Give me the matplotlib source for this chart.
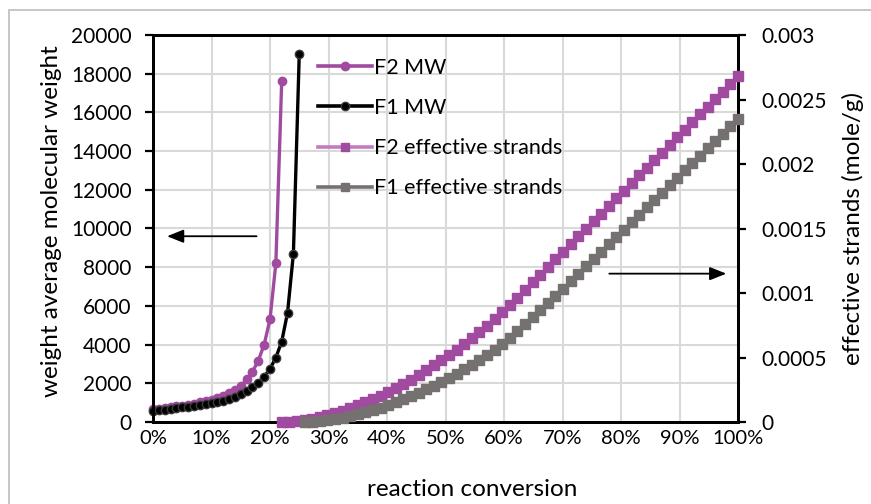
import matplotlib
matplotlib.use("Agg")
import matplotlib.pyplot as plt
from matplotlib.lines import Line2D
from matplotlib.patches import Rectangle
from matplotlib.ticker import FuncFormatter, MultipleLocator

plt.rcParams['font.family'] = ['Lato', 'DejaVu Sans']

# Weight average molecular weight vs. reaction conversion (%)
f2_mw_conv = [0, 1, 2, 3, 4, 5, 6, 7, 8, 9, 10, 11, 12, 13, 14, 15, 16, 17, 18, 19, 20, 21, 22]
f2_mw = [650, 690, 730, 770, 810, 850, 900, 950, 1010, 1080, 1160, 1250, 1350, 1480,
         1640, 1850, 2200, 2600, 3170, 4000, 5300, 8200, 17600]

f1_mw_conv = [0, 1, 2, 3, 4, 5, 6, 7, 8, 9, 10, 11, 12, 13, 14, 15, 16, 17, 18, 19, 20,
              21, 22, 23, 24, 25]
f1_mw = [580, 610, 640, 680, 710, 750, 790, 830, 870, 920, 970, 1030, 1100, 1180, 1290,
         1430, 1600, 1800, 2030, 2340, 2740, 3330, 4150, 5650, 8700, 19000]

# Effective strands (mole/g) vs. reaction conversion (%)
f2_es_conv = [22.0, 23.3, 24.6, 25.9, 27.2, 28.5, 29.8, 31.1, 32.4, 33.7, 35.0, 36.3, 37.6,
              38.9, 40.2, 41.5, 42.8, 44.1, 45.4, 46.7, 48.0, 49.3, 50.6, 51.9, 53.2, 54.5,
              55.8, 57.1, 58.4, 59.7, 61.0, 62.3, 63.6, 64.9, 66.2, 67.5, 68.8, 70.1, 71.4,
              72.7, 74.0, 75.3, 76.6, 77.9, 79.2, 80.5, 81.8, 83.1, 84.4, 85.7, 87.0, 88.3,
              89.6, 90.9, 92.2, 93.5, 94.8, 96.1, 97.4, 98.7, 100.0]
f2_es = [0.0, 0.000003, 0.000008, 0.000017, 0.000027, 0.000040, 0.000054, 0.000070,
         0.000088, 0.000107, 0.000129, 0.000153, 0.000178, 0.000205, 0.000233, 0.000263,
         0.000295, 0.000328, 0.000363, 0.000400, 0.000438, 0.000478, 0.000519, 0.000561,
         0.000605, 0.000650, 0.000697, 0.000746, 0.000797, 0.000851, 0.000905, 0.000965,
         0.001024, 0.001083, 0.001142, 0.001201, 0.001260, 0.001320, 0.001379, 0.001438,
         0.001497, 0.001556, 0.001615, 0.001674, 0.001734, 0.001793, 0.001852, 0.001911,
         0.001970, 0.002029, 0.002089, 0.002148, 0.002207, 0.002266, 0.002325, 0.002384,
         0.002443, 0.002503, 0.002562, 0.002621, 0.002680]

f1_es_conv = [25.9, 27.2, 28.5, 29.8, 31.1, 32.4, 33.7, 35.0, 36.3, 37.6, 38.9, 40.2, 41.5,
              42.8, 44.1, 45.4, 46.7, 48.0, 49.3, 50.6, 51.9, 53.2, 54.5, 55.8, 57.1, 58.4,
              59.7, 61.0, 62.3, 63.6, 64.9, 66.2, 67.5, 68.8, 70.1, 71.4, 72.7, 74.0, 75.3,
              76.6, 77.9, 79.2, 80.5, 81.8, 83.1, 84.4, 85.7, 87.0, 88.3, 89.6, 90.9, 92.2,
              93.5, 94.8, 96.1, 97.4, 98.7, 100.0]
f1_es = [0.0, 0.000002, 0.000006, 0.000013, 0.000022, 0.000032, 0.000045, 0.000059,
         0.000075, 0.000092, 0.000111, 0.000131, 0.000152, 0.000175, 0.000200, 0.000226,
         0.000253, 0.000281, 0.000311, 0.000342, 0.000374, 0.000408, 0.000442, 0.000480,
         0.000520, 0.000562, 0.000607, 0.000655, 0.000705, 0.000757, 0.000811, 0.000866,
         0.000920, 0.000977, 0.001034, 0.001092, 0.001149, 0.001206, 0.001263, 0.001320,
         0.001378, 0.001435, 0.001492, 0.001549, 0.001606, 0.001664, 0.001721, 0.001778,
         0.001835, 0.001892, 0.001950, 0.002007, 0.002064, 0.002121, 0.002178, 0.002236,
         0.002293, 0.002350]

series_labels = ["F2 MW", "F1 MW", "F2 effective strands", "F1 effective strands"]
x_tick_values = [0, 10, 20, 30, 40, 50, 60, 70, 80, 90, 100]

PURPLE = "#A04BA0"
PURPLE_LIGHT = "#C27DC0"
GREY = "#767171"
GRID = "#D9D9D9"

W, H = 871, 504
fig = plt.figure(figsize=(W / 100, H / 100), dpi=100)
ax = fig.add_axes([153 / W, 1 - 422 / H, (738 - 153) / W, (422 - 35) / H])
ax2 = ax.twinx()

# outer chart frame
fig.patches.append(Rectangle((9 / W, -0.2), 1.5, 1.2 - 10 / H, transform=fig.transFigure,
                             fill=False, edgecolor="#C6C6C6", linewidth=1.4))

MW_MS = 6.0
ES_MS = 6.8

# molecular weight curves (left axis)
ax.plot(f2_mw_conv, f2_mw, color=PURPLE, lw=2.4, marker="o", ms=MW_MS,
        mfc=PURPLE, mec=PURPLE, clip_on=False, zorder=3)
ax.plot(f1_mw_conv, f1_mw, color="black", lw=2.4, marker="o", ms=MW_MS,
        mfc="black", mec="#3A3A3A", clip_on=False, zorder=4)

# effective strands (right axis)
ax2.plot(f2_es_conv, f2_es, color=PURPLE_LIGHT, lw=2.0, marker="s", ms=ES_MS,
         mfc=PURPLE, mec=PURPLE, clip_on=False, zorder=3)
ax2.plot(f1_es_conv, f1_es, color=GREY, lw=2.0, marker="s", ms=ES_MS,
         mfc=GREY, mec=GREY, clip_on=False, zorder=4)

ax.set_xlim(0, 100)
ax.set_ylim(0, 20000)
ax2.set_ylim(0, 0.003)

ax.set_xticks(x_tick_values)
ax.xaxis.set_major_formatter(FuncFormatter(lambda v, p: f"{v:.0f}%"))
ax.yaxis.set_major_locator(MultipleLocator(2000))
ax.yaxis.set_major_formatter(FuncFormatter(lambda v, p: f"{v:.0f}"))
ax2.yaxis.set_major_locator(MultipleLocator(0.0005))
ax2.yaxis.set_major_formatter(FuncFormatter(lambda v, p: f"{v:g}"))

ax.grid(True, color=GRID, lw=1.5)
ax.set_axisbelow(True)

for a in (ax, ax2):
    for s in a.spines.values():
        s.set_color("black")
        s.set_linewidth(2.0)

ax.tick_params(axis="x", length=0, pad=6, labelsize=14.5, colors="black")
ax.tick_params(axis="y", length=5.5, width=1.6, pad=10, labelsize=15, direction="out")
ax2.tick_params(axis="y", length=6, width=1.6, pad=11, labelsize=15, direction="out")

ax.set_xlabel("reaction conversion", fontsize=17.5, va="center")
ax.xaxis.set_label_coords((472 - 153) / 585, (422 - 489) / 387)
ax.set_ylabel("weight average molecular weight", fontsize=17.5, va="center")
ax.yaxis.set_label_coords((51 - 153) / 585, (422 - 221) / 387)
ax2.set_ylabel("effective strands (mole/g)", fontsize=17.5, va="center")
ax2.yaxis.set_label_coords((853 - 153) / 585, 0.5)

# arrows pointing each curve family to its axis
ax.annotate("", xy=(2.4, 9600), xytext=(17.7, 9600),
            arrowprops=dict(arrowstyle="-|>,head_length=1.0,head_width=0.4",
                            color="black", lw=1.3, shrinkA=0, shrinkB=0))
ax2.annotate("", xy=(98.0, 0.00115), xytext=(78.0, 0.00115),
             arrowprops=dict(arrowstyle="-|>,head_length=1.0,head_width=0.4",
                             color="black", lw=1.3, shrinkA=0, shrinkB=0))

handles = [
    Line2D([], [], color=PURPLE, lw=2.6, marker="o", ms=MW_MS, mfc=PURPLE, mec=PURPLE),
    Line2D([], [], color="black", lw=2.6, marker="o", ms=MW_MS, mfc="black", mec="#3A3A3A"),
    Line2D([], [], color=PURPLE_LIGHT, lw=2.6, marker="s", ms=5.8, mfc=PURPLE, mec=PURPLE),
    Line2D([], [], color=GREY, lw=2.6, marker="s", ms=5.8, mfc=GREY, mec=GREY),
]
leg = ax2.legend(handles, series_labels, loc="upper left",
                 bbox_to_anchor=(318 / W, 1 - 58 / H), bbox_transform=fig.transFigure,
                 frameon=False, fontsize=15.5, handlelength=2.5, handletextpad=0.12,
                 labelspacing=0.93, borderpad=0, borderaxespad=0)

fig.savefig("out.png", dpi=100, facecolor="white")
